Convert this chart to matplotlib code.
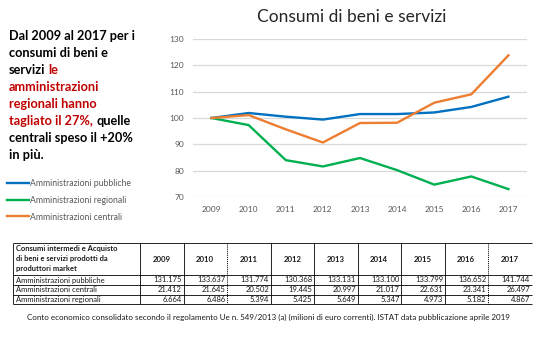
import matplotlib
matplotlib.use("Agg")
import matplotlib.pyplot as plt

# Index 2009 = 100 for the three series
years = ["2009", "2010", "2011", "2012", "2013", "2014", "2015", "2016", "2017"]
idx_pubbliche = [100, 101.9, 100.5, 99.4, 101.5, 101.5, 102.1, 104.2, 108.1]
idx_regionali = [100, 97.3, 84.0, 81.6, 84.8, 80.2, 74.7, 77.8, 73.0]
idx_centrali = [100, 101.1, 95.7, 90.7, 98.1, 98.2, 105.8, 109.0, 123.8]

series_labels = ["Amministrazioni pubbliche", "Amministrazioni regionali", "Amministrazioni centrali"]

# Source table (milioni di euro correnti)
table_header = ["Consumi intermedi e Acquisto", "di beni e servizi prodotti da", "produttori market"]
table_rows = ["Amministrazioni pubbliche", "Amministrazioni centrali", "Amministrazioni regionali"]
tab_pubbliche = ["131.175", "133.637", "131.774", "130.368", "133.131", "133.100", "133.799", "136.652", "141.744"]
tab_centrali = ["21.412", "21.645", "20.502", "19.445", "20.997", "21.017", "22.631", "23.341", "26.497"]
tab_regionali = ["6.664", "6.486", "5.394", "5.425", "5.649", "5.347", "4.973", "5.182", "4.867"]

title = "Consumi di beni e servizi"
footer = ("Conto economico consolidato secondo il regolamento Ue n. 549/2013 (a) (milioni di euro correnti). "
          "ISTAT data pubblicazione aprile 2019")
paragraph = [
    [("Dal 2009 al 2017 per i", "black")],
    [("consumi di beni e", "black")],
    [("servizi", "black"), ("le", "#c00000")],
    [("amministrazioni", "#c00000")],
    [("regionali hanno", "#c00000")],
    [("tagliato il 27%,", "#c00000"), ("quelle", "black")],
    [("centrali speso il +20%", "black")],
    [("in più.", "black")],
]

GREY = "#595959"
plt.rcParams.update({"font.family": ["Lato", "DejaVu Sans"]})

W, H = 539, 337
fig = plt.figure(figsize=(W / 100, H / 100), dpi=100)

# line chart
ax = fig.add_axes([193 / W, 1 - 197 / H, 334 / W, 158 / H])
x = list(range(len(years)))
colors = ["#0070c0", "#00b050", "#ed7d31"]
for values, color, label in zip((idx_pubbliche, idx_regionali, idx_centrali), colors, series_labels):
    ax.plot(x, values, color=color, lw=1.7, label=label, solid_joinstyle="miter")
ax.set_xlim(-0.5, len(years) - 0.5)
ax.set_ylim(70, 130)
ax.set_yticks(range(70, 131, 10))
ax.set_xticks(x, years)
ax.grid(axis="y", color="#d9d9d9", lw=0.9)
ax.set_axisbelow(True)
for spine in ax.spines.values():
    spine.set_visible(False)
ax.tick_params(length=0, labelsize=6, labelcolor=GREY, pad=6.5)

fig.text(352 / W, 1 - 17 / H, title, ha="center", va="center", fontsize=12.5, color="#262626")

handles, labels = ax.get_legend_handles_labels()
fig.legend(handles, labels, loc="upper left", bbox_to_anchor=(7 / W, 1 - 179 / H), frameon=False,
           fontsize=6.2, labelcolor=GREY, handlelength=2.5, handletextpad=0.15, labelspacing=0.9,
           borderpad=0, borderaxespad=0)

# overlay in pixel coordinates for the text block and the table
ov = fig.add_axes([0, 0, 1, 1])
ov.set_xlim(0, W)
ov.set_ylim(H, 0)
ov.axis("off")

for i, segments in enumerate(paragraph):
    y = 40 + i * 16.95
    prev = None
    for text, color in segments:
        if prev is None:
            prev = ov.text(9, y, text, color=color, fontsize=9.2, fontweight="bold", va="baseline")
        else:
            prev = ov.annotate(text, xy=(1, 0), xycoords=prev, xytext=(2.3, 0), textcoords="offset points",
                               color=color, fontsize=9.2, fontweight="bold", va="bottom", ha="left")

# table grid
left, first_col, col_w = 13, 140, 43.5
col_edges = [first_col + col_w * k for k in range(len(years) + 1)]
row_edges = [243, 275, 285, 294.5, 304]
right = col_edges[-1]
ov.hlines(row_edges, left, right, color="black", lw=0.6)
ov.vlines([left, first_col], row_edges[0], row_edges[-1], color="black", lw=0.6)
for k, xe in enumerate(col_edges[1:-1], start=1):
    dotted = k in (2, 8)
    ov.vlines(xe, row_edges[0], row_edges[-1], color="black", lw=0.7 if dotted else 0.6,
              linestyles=(0, (1, 1)) if dotted else "solid")

TXT = "#1a1a1a"
for i, line in enumerate(table_header):
    ov.text(16, 248.5 + i * 10, line, fontsize=5.4, fontweight="bold", color=TXT, va="center")
for k, year in enumerate(years):
    ov.text((col_edges[k] + col_edges[k + 1]) / 2, 259, year, fontsize=5.6, fontweight="bold",
            color=TXT, ha="center", va="center")
for r, (name, vals) in enumerate(zip(table_rows, (tab_pubbliche, tab_centrali, tab_regionali))):
    yc = (row_edges[r + 1] + row_edges[r + 2]) / 2
    ov.text(16, yc, name, fontsize=5.5, color=TXT, va="center")
    for k, v in enumerate(vals):
        ov.text(col_edges[k + 1] - 1.5, yc, v, fontsize=5.5, color=TXT, ha="right", va="center")

ov.text(268, 317, footer, fontsize=5.8, color=TXT, ha="center", va="center")

fig.savefig("out.png", dpi=100)
